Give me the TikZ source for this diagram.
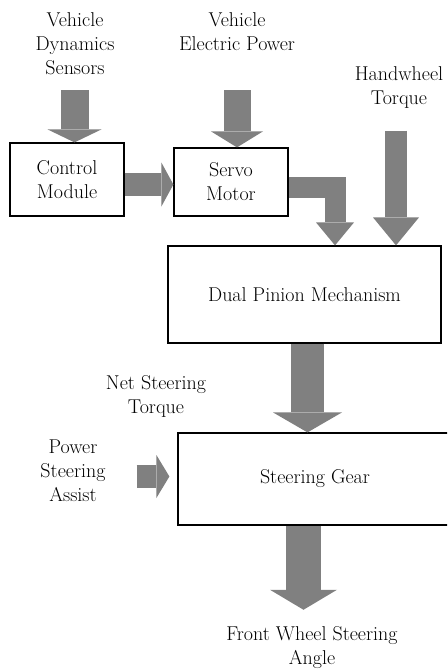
\documentclass[tikz,border=0pt]{standalone}
\usepackage{fontspec}
\usetikzlibrary{arrows.meta,positioning}
\definecolor{arrowgray}{RGB}{128,128,128}
\begin{document}
\begin{tikzpicture}[x=1pt,y=-1pt,font=\fontsize{20}{24}\selectfont,
    blk/.style={draw,line width=1.2pt,align=center,inner sep=0pt},
    txt/.style={align=center,inner sep=0pt},
    fat/.style n args={3}{draw=arrowgray,line width=#1,line join=miter,-{Triangle[width=#2,length=#3,line width=0pt]}}]
    \clip (0,0) rectangle (447,669);
    \node[blk,minimum width=114pt,minimum height=73pt] (cm) at (67,179.5) {Control\\Module};
    \node[blk,minimum width=114pt,minimum height=68pt] (sm) at (231,182) {Servo\\Motor};
    \node[blk,minimum width=273pt,minimum height=97pt] (dp) at (304.5,294.5) {Dual Pinion Mechanism};
    \node[blk,minimum width=274pt,minimum height=92pt] (sg) at (315,479) {Steering Gear};

    \node[txt] (vds) at (75,44) {Vehicle\\Dynamics\\Sensors};
    \node[txt] (vep) at (237,32) {Vehicle\\Electric Power};
    \node[txt] (hwt) at (399,87.5) {Handwheel\\Torque};
    \node[txt] (nst) at (156,396) {Net Steering\\Torque};
    \node[txt] (psa) at (73,470.5) {Power\\Steering\\Assist};
    \node[txt] (fwsa) at (312,648) {Front Wheel Steering\\Angle};

    \coordinate (vdsout) at ([xshift=-0.5pt]vds.south);
    \coordinate (cmout) at ([yshift=-5pt]cm.east);
    \coordinate (smout) at ([yshift=-5pt]sm.east);
    \coordinate (dpin) at ([xshift=30.5pt]dp.north);
    \coordinate (hwtout) at ([xshift=-3pt]hwt.south);
    \coordinate (dpout) at ([xshift=3pt]dp.south);
    \coordinate (psaout) at ([yshift=-6pt]psa.east);
    \coordinate (sgout) at ([xshift=-11.5pt]sg.south);

    \draw[fat={28pt}{54pt}{13pt},shorten <=15pt] (vdsout) -- (vdsout |- cm.north);
    \draw[fat={27pt}{52pt}{16pt},shorten <=39pt] (vep.south) -- (vep.south |- sm.north);
    \draw[fat={23pt}{44pt}{12pt}] (cmout) -- (cmout -| sm.west);
    \draw[fat={21pt}{38pt}{23pt}] (smout) -| (dpin);
    \draw[fat={22pt}{46pt}{28pt},shorten <=22pt] (hwtout) -- (hwtout |- dp.north);
    \draw[fat={33pt}{69pt}{20pt}] (dpout) -- (dpout |- sg.north);
    \draw[fat={23pt}{43pt}{13pt},shorten <=31pt,shorten >=8pt] (psaout) -- (psaout -| sg.west);
    \draw[fat={35pt}{67pt}{20pt},shorten >=17pt] (sgout) -- (sgout |- fwsa.north);
  \end{tikzpicture}
\end{document}
